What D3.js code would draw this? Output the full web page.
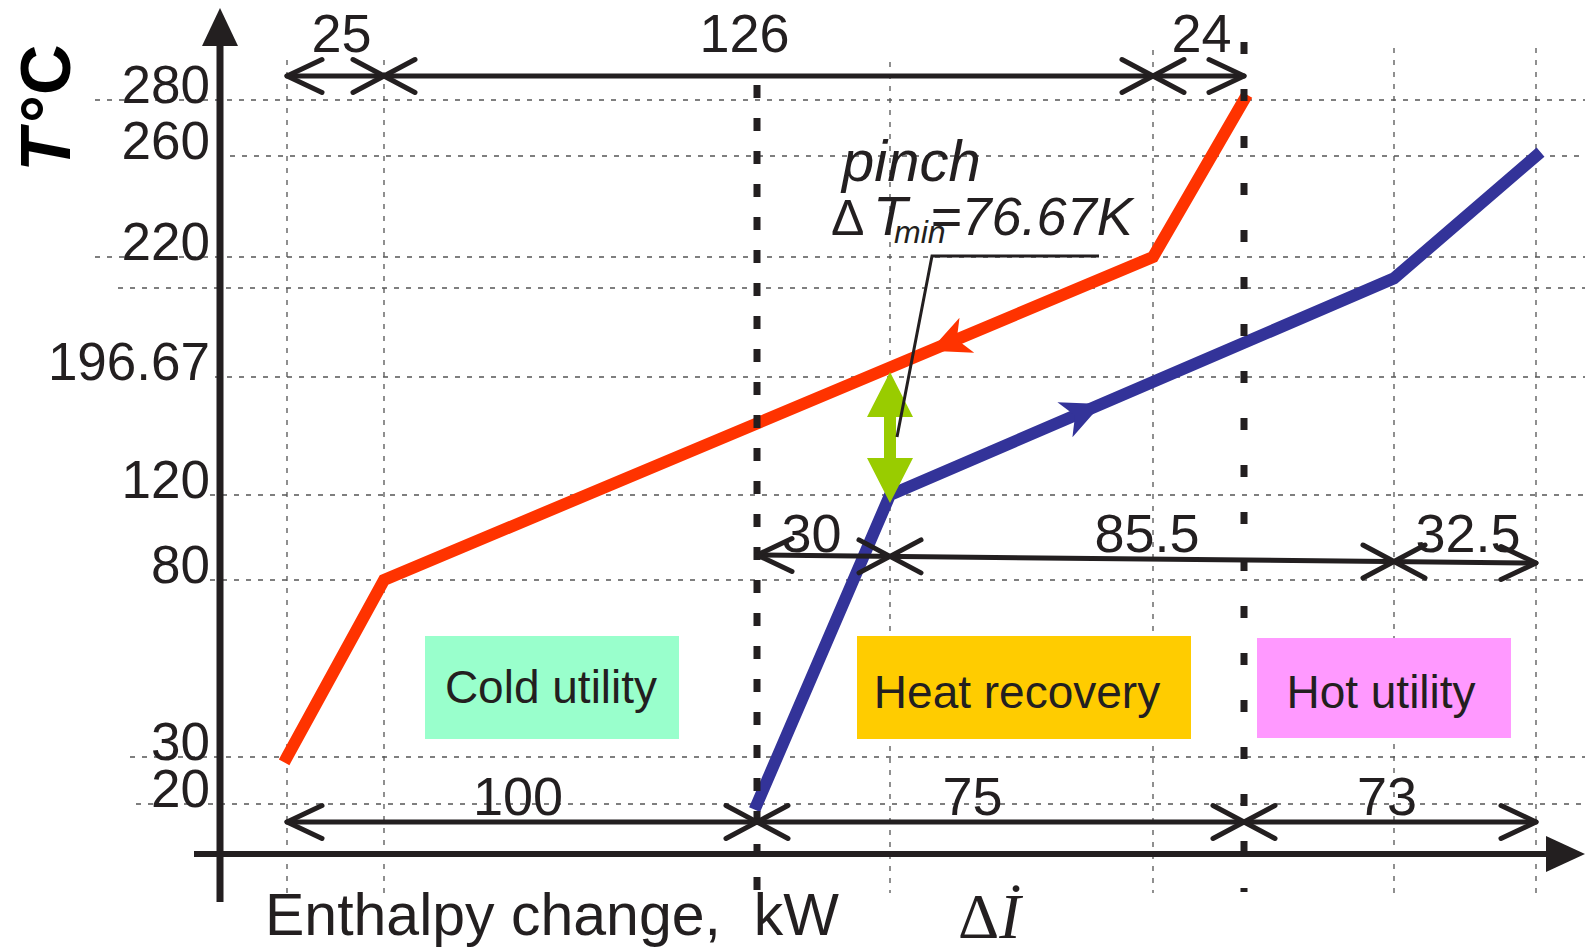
<!DOCTYPE html>
<html>
<head>
<meta charset="utf-8">
<script src="https://cdn.jsdelivr.net/npm/d3@7"></script>
<style>
  body { margin: 0; background: #fff; }
  svg { display: block; font-family: "Liberation Sans", Arial, sans-serif; }
</style>
</head>
<body>
<div id="plot"></div>
<script>
// composite curves - enthalpy (kW) vs temperature (°C)

const w = 1585;
const h = 952;
const ink = "#231F20";

// enthalpy break points along the axis (the diagram is not to scale)
const enthalpyBreaks = [0, 25, 100, 130, 151, 175, 215.5, 248];
const enthalpyPx = [287, 384, 757, 890, 1153, 1244, 1394, 1536];

// temperature gridlines, with labels ("" = unlabeled line)
const tempTicks = [20, 30, 80, 120, 196.67, 212, 220, 260, 280];
const tempLabels = ["20", "30", "80", "120", "196.67", "", "220", "260", "280"];
const tempPx = [804, 757, 580, 495, 377, 288, 257, 156, 100];
const gridStart = [136, 130, 210, 210, 215, 118, 95, 230, 95];

// hot composite curve
const hotH = [0, 25, 151, 175];
const hotT = [30, 80, 220, 280];
// cold composite curve
const coldH = [100, 130, 215.5, 248];
const coldT = [20, 120, 214.5, 260];

// pinch
const pinchH = 130;
const pinchHot = 196.67;
const pinchCold = 120;
const dTmin = "76.67K";

// dimension rows (break points); labels are the differences
const topSpans = [0, 25, 151, 175];
const midSpans = [100, 130, 215.5, 248];
const bottomSpans = [0, 100, 175, 248];

// regions
const regions = ["Cold utility", "Heat recovery", "Hot utility"];
const regionColors = ["#99FFCC", "#FFCC00", "#FF99FF"];

const x = d3.scaleLinear().domain(enthalpyBreaks).range(enthalpyPx);
const y = d3.scaleLinear().domain(tempTicks).range(tempPx);

const svg = d3.select("#plot")
  .append("svg")
    .attr("width", w)
    .attr("height", h);

// grid
const gridV = [0, 25, 130, 151, 215.5, 248];
const gridVTop = [60, 60, 62, 50, 48, 48];
svg.append("g")
  .selectAll("line")
  .data(gridV)
  .join("line")
    .attr("x1", d => x(d)).attr("x2", d => x(d))
    .attr("y1", (d, i) => gridVTop[i]).attr("y2", 893)
    .attr("stroke", "#555").attr("stroke-width", 1.3)
    .attr("stroke-dasharray", "5,7");

svg.append("g")
  .selectAll("line")
  .data(tempTicks)
  .join("line")
    .attr("x1", (d, i) => gridStart[i]).attr("x2", w)
    .attr("y1", d => y(d)).attr("y2", d => y(d))
    .attr("stroke", "#555").attr("stroke-width", 1.3)
    .attr("stroke-dasharray", "5,7");

// region boxes
const boxX = [[425, 679], [857, 1191], [1257, 1511]];
const boxY = [[636, 739], [636, 739], [638, 738]];
const boxTextX = [551, 1017, 1381];
const boxTextY = [703, 708, 708];
const boxes = svg.append("g");
boxes.selectAll("rect")
  .data(regions)
  .join("rect")
    .attr("x", (d, i) => boxX[i][0])
    .attr("y", (d, i) => boxY[i][0])
    .attr("width", (d, i) => boxX[i][1] - boxX[i][0])
    .attr("height", (d, i) => boxY[i][1] - boxY[i][0])
    .attr("fill", (d, i) => regionColors[i]);
boxes.selectAll("text")
  .data(regions)
  .join("text")
    .attr("x", (d, i) => boxTextX[i])
    .attr("y", (d, i) => boxTextY[i])
    .attr("text-anchor", "middle")
    .attr("font-size", 46)
    .attr("fill", ink)
    .text(d => d);

// curves
const line = d3.line().x(d => x(d[0])).y(d => y(d[1]));
const hot = d3.zip(hotH, hotT);
const cold = d3.zip(coldH, coldT);

svg.append("path")
    .attr("d", line(hot))
    .attr("fill", "none").attr("stroke", "#FF3300")
    .attr("stroke-width", 12).attr("stroke-linecap", "square");
svg.append("path")
    .attr("d", line(cold))
    .attr("fill", "none").attr("stroke", "#333399")
    .attr("stroke-width", 12).attr("stroke-linecap", "square");

// flow direction arrowheads on the curves
function flowArrow(p0, p1, t, color) {
  const x0 = x(p0[0]), y0 = y(p0[1]), x1 = x(p1[0]), y1 = y(p1[1]);
  const tx = x0 + (x1 - x0) * t, ty = y0 + (y1 - y0) * t;
  const ang = Math.atan2(y1 - y0, x1 - x0) * 180 / Math.PI;
  svg.append("path")
      .attr("transform", `translate(${tx},${ty}) rotate(${ang})`)
      .attr("d", "M0,0 L-40,-19 L-29,0 L-40,19 Z")
      .attr("fill", color);
}
// hot flows from high to low temperature
flowArrow(hot[2], hot[1], 0.29, "#FF3300");
flowArrow(cold[1], cold[2], 0.42, "#333399");

// thick dashed pinch lines
svg.append("line")
    .attr("x1", x(100)).attr("x2", x(100)).attr("y1", 85).attr("y2", 898)
    .attr("stroke", ink).attr("stroke-width", 7).attr("stroke-dasharray", "13,20");
svg.append("line")
    .attr("x1", x(175)).attr("x2", x(175)).attr("y1", 42).attr("y2", 892)
    .attr("stroke", ink).attr("stroke-width", 7).attr("stroke-dasharray", "12,35");

// dimension rows
const fmt = d3.format("~g");
const labelNudge = {top: [6, -24, 3], mid: [-12, 5, 3], bottom: [-4, -28, -3]};
function dimRow(spans, ya, yb, labelY, nudge) {
  const g = svg.append("g")
      .attr("fill", "none").attr("stroke", ink)
      .attr("stroke-width", 5).attr("stroke-linecap", "round").attr("stroke-linejoin", "round");
  const a = x(spans[0]), b = x(spans[spans.length - 1]);
  const yAt = px => ya + (yb - ya) * (px - a) / (b - a);
  g.append("line").attr("x1", a).attr("x2", b).attr("y1", ya).attr("y2", yb);
  g.append("path").attr("d", `M${a + 35},${ya - 16.5} L${a},${ya} L${a + 35},${ya + 16.5}`);
  g.append("path").attr("d", `M${b - 35},${yb - 16.5} L${b},${yb} L${b - 35},${yb + 16.5}`);
  spans.slice(1, -1).forEach(s => {
    const m = x(s), yy = yAt(m);
    g.append("path").attr("d",
      `M${m - 31},${yy - 16.5} L${m + 31},${yy + 16.5} M${m - 31},${yy + 16.5} L${m + 31},${yy - 16.5}`);
  });
  const pairs = d3.pairs(spans);
  svg.append("g")
    .selectAll("text")
    .data(pairs)
    .join("text")
      .attr("x", (d, i) => (x(d[0]) + x(d[1])) / 2 + nudge[i])
      .attr("y", labelY)
      .attr("text-anchor", "middle")
      .attr("font-size", 54)
      .attr("fill", ink)
      .text(d => fmt(+(d[1] - d[0]).toFixed(2)));
}
dimRow(topSpans, 76, 76, 52, labelNudge.top);
dimRow(midSpans, 555, 563, 552, labelNudge.mid);
dimRow(bottomSpans, 822, 822, 815, labelNudge.bottom);

// axes
svg.append("line")
    .attr("x1", 220).attr("x2", 220).attr("y1", 40).attr("y2", 902)
    .attr("stroke", ink).attr("stroke-width", 7);
svg.append("path").attr("d", "M220,8 L202,46 L238,46 Z").attr("fill", ink);
svg.append("line")
    .attr("x1", 194).attr("x2", 1550).attr("y1", 854).attr("y2", 854)
    .attr("stroke", ink).attr("stroke-width", 6);
svg.append("path").attr("d", "M1585,854 L1546,836 L1546,872 Z").attr("fill", ink);

// temperature labels
const yAxis = d3.axisLeft(y)
    .tickValues(tempTicks)
    .tickSize(0)
    .tickPadding(0)
    .tickFormat((d, i) => tempLabels[i]);
const yg = svg.append("g")
    .attr("transform", "translate(210,0)")
    .call(yAxis);
yg.select(".domain").remove();
yg.selectAll("text")
    .attr("dy", "0.04em")
    .attr("font-size", 53)
    .attr("font-family", "'Liberation Sans', Arial, sans-serif")
    .attr("fill", ink);

// pinch double arrow
const px = x(pinchH);
const yTop = y(pinchHot) - 5, yBot = y(pinchCold) + 8;
svg.append("path")
    .attr("d", `M${px},${yTop} L${px + 23},${yTop + 45} L${px + 6},${yTop + 45} L${px + 6},${yBot - 45}
                L${px + 23},${yBot - 45} L${px},${yBot} L${px - 23},${yBot - 45} L${px - 6},${yBot - 45}
                L${px - 6},${yTop + 45} L${px - 23},${yTop + 45} Z`)
    .attr("fill", "#99CC00");

// leader line
svg.append("path")
    .attr("d", `M${px + 7},437 L932,256 L1099,256`)
    .attr("fill", "none").attr("stroke", ink).attr("stroke-width", 3);

// pinch annotation
svg.append("text")
    .attr("x", 842).attr("y", 181)
    .attr("font-size", 58).attr("font-style", "italic").attr("fill", ink)
    .text("pinch");
svg.append("text")
    .attr("x", 831).attr("y", 235)
    .attr("font-size", 50).attr("fill", ink)
    .text("Δ");
svg.append("text")
    .attr("x", 873).attr("y", 235)
    .attr("font-size", 56).attr("font-style", "italic").attr("fill", ink)
    .text("T");
svg.append("text")
    .attr("x", 894).attr("y", 243)
    .attr("font-size", 32).attr("font-style", "italic").attr("fill", ink)
    .text("min");
svg.append("text")
    .attr("x", 930).attr("y", 235)
    .attr("font-size", 54).attr("font-style", "italic").attr("fill", ink)
    .text("=" + dTmin);

// axis titles
svg.append("text")
    .attr("transform", "translate(70,108) rotate(-90)")
    .attr("text-anchor", "middle")
    .attr("font-size", 70).attr("font-weight", "bold").attr("fill", "#000")
    .html('<tspan font-style="italic">T</tspan><tspan dx="6">°C</tspan>');

svg.append("text")
    .attr("x", 265).attr("y", 935)
    .attr("font-size", 59).attr("fill", ink)
    .style("white-space", "pre")
    .text("Enthalpy change,  kW");

svg.append("text")
    .attr("x", 958).attr("y", 938)
    .attr("font-family", "'Liberation Serif', serif")
    .attr("font-size", 64).attr("fill", ink)
    .html('Δ<tspan font-style="italic">İ</tspan>');
</script>
</body>
</html>
